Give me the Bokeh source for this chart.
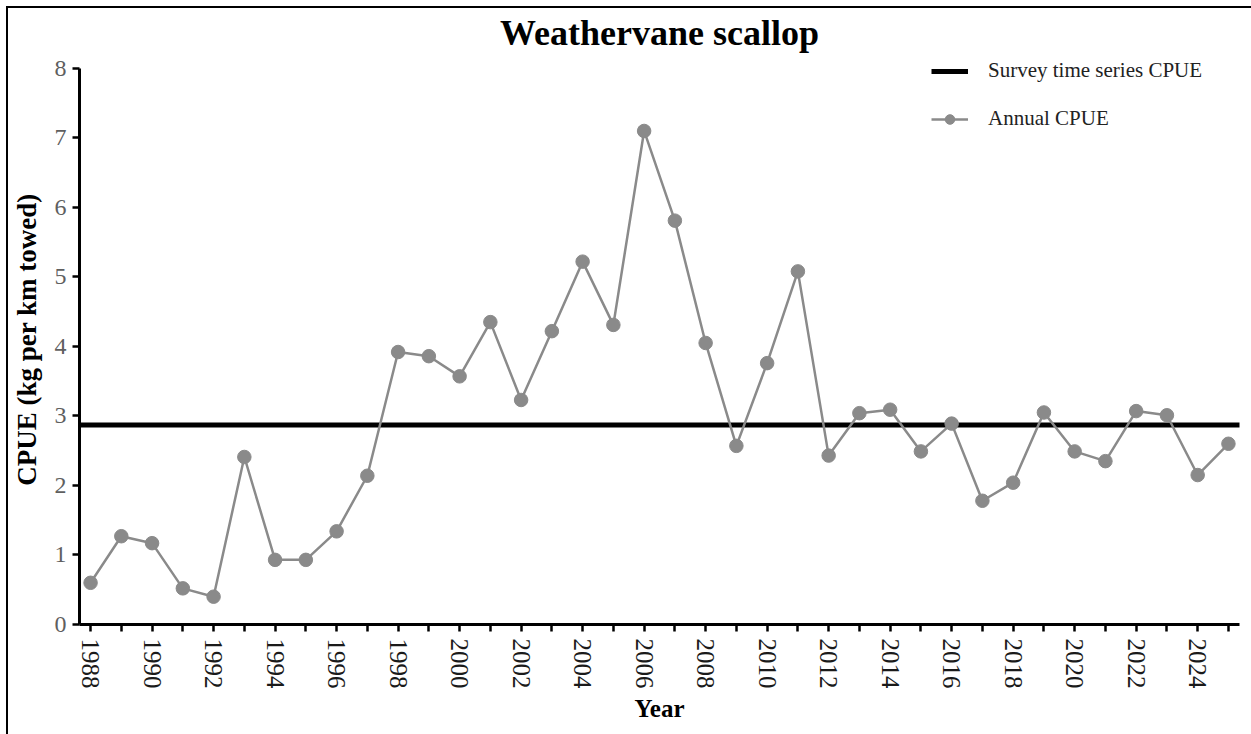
from bokeh.plotting import figure
from bokeh.models import FixedTicker, Legend, LegendItem, Range1d
from bokeh.embed import file_html
from bokeh.resources import INLINE

# ---- data ----
years = list(range(1988, 2026))
annual_cpue = [0.60, 1.27, 1.17, 0.52, 0.40, 2.41, 0.93, 0.93, 1.34, 2.14,
               3.92, 3.86, 3.57, 4.35, 3.23, 4.22, 5.22, 4.31, 7.10, 5.81,
               4.05, 2.57, 3.76, 5.08, 2.43, 3.04, 3.09, 2.49, 2.89, 1.78,
               2.04, 3.05, 2.49, 2.35, 3.07, 3.01, 2.15, 2.60]
survey_mean = 2.87
y_ticks = [0, 1, 2, 3, 4, 5, 6, 7, 8]
x_tick_labels = {y: (str(y) if y % 2 == 0 else "") for y in years}

title_text = "Weathervane scallop"
x_label = "Year"
y_label = "CPUE (kg per km towed)"
series_names = ["Survey time series CPUE", "Annual CPUE"]

SERIF = "Liberation Serif"
GRAY = "#8a8a8a"

p = figure(width=1243, height=726, output_backend="svg", toolbar_location=None,
           x_range=Range1d(years[0] - 0.36, years[-1] + 0.36),
           y_range=Range1d(y_ticks[0], 8.2),
           min_border_left=70, min_border_right=12, min_border_top=46, min_border_bottom=110,
           title=title_text)
p.styles = {"margin-left": "8px", "margin-top": "8px", "outline": "2px solid #000"}

p.title.align = "center"
p.title.text_font = SERIF
p.title.text_font_size = "36px"
p.title.text_font_style = "bold"
p.title.text_color = "black"
p.title.standoff = 4

p.xgrid.visible = False
p.ygrid.visible = False
p.outline_line_color = None

# axes
xa = p.xaxis[0]
xa.ticker = FixedTicker(ticks=years)
xa.major_label_overrides = x_tick_labels
xa.major_label_orientation = "vertical"
xa.axis_label = x_label
ya = p.yaxis[0]
ya.ticker = FixedTicker(ticks=y_ticks)
ya.bounds = (y_ticks[0], y_ticks[-1])
ya.axis_label = y_label

for ax in (xa, ya):
    ax.axis_line_color = "black"
    ax.axis_line_width = 3
    ax.major_tick_line_color = "black"
    ax.major_tick_line_width = 2.5
    ax.major_tick_in = 0
    ax.major_tick_out = 7
    ax.minor_tick_line_color = None
    ax.major_label_text_font = SERIF
    ax.axis_label_text_font = SERIF
    ax.axis_label_text_font_style = "bold"
    ax.axis_label_text_color = "black"

xa.major_label_text_font_size = "25px"
xa.major_label_text_color = "#1a1a1a"
xa.major_label_standoff = 7
xa.axis_label_text_font_size = "25px"
xa.axis_label_standoff = 3

ya.major_label_text_font_size = "24px"
ya.major_label_text_color = "#5f5f5f"
ya.major_label_standoff = 6
ya.axis_label_text_font_size = "27px"
ya.axis_label_standoff = 10

# survey mean line
hline = p.line(x=[years[0] - 1, years[-1] + 1], y=[survey_mean, survey_mean],
               line_color="black", line_width=5)

# annual series
line_r = p.line(x=years, y=annual_cpue, line_color=GRAY, line_width=2.5)
pts_r = p.scatter(x=years, y=annual_cpue, size=13.5, marker="circle",
                  fill_color=GRAY, line_color=GRAY)

legend = Legend(items=[LegendItem(label=series_names[0], renderers=[hline]),
                       LegendItem(label=series_names[1], renderers=[line_r, pts_r])],
                location=(852, 493), orientation="vertical",
                padding=0, margin=0, spacing=23,
                glyph_width=37, glyph_height=24, label_height=24,
                label_standoff=20,
                label_text_font=SERIF, label_text_font_size="21px",
                label_text_color="#222222",
                border_line_color=None, background_fill_alpha=0)
p.add_layout(legend)

open("out.html", "w").write(file_html(p, INLINE))
